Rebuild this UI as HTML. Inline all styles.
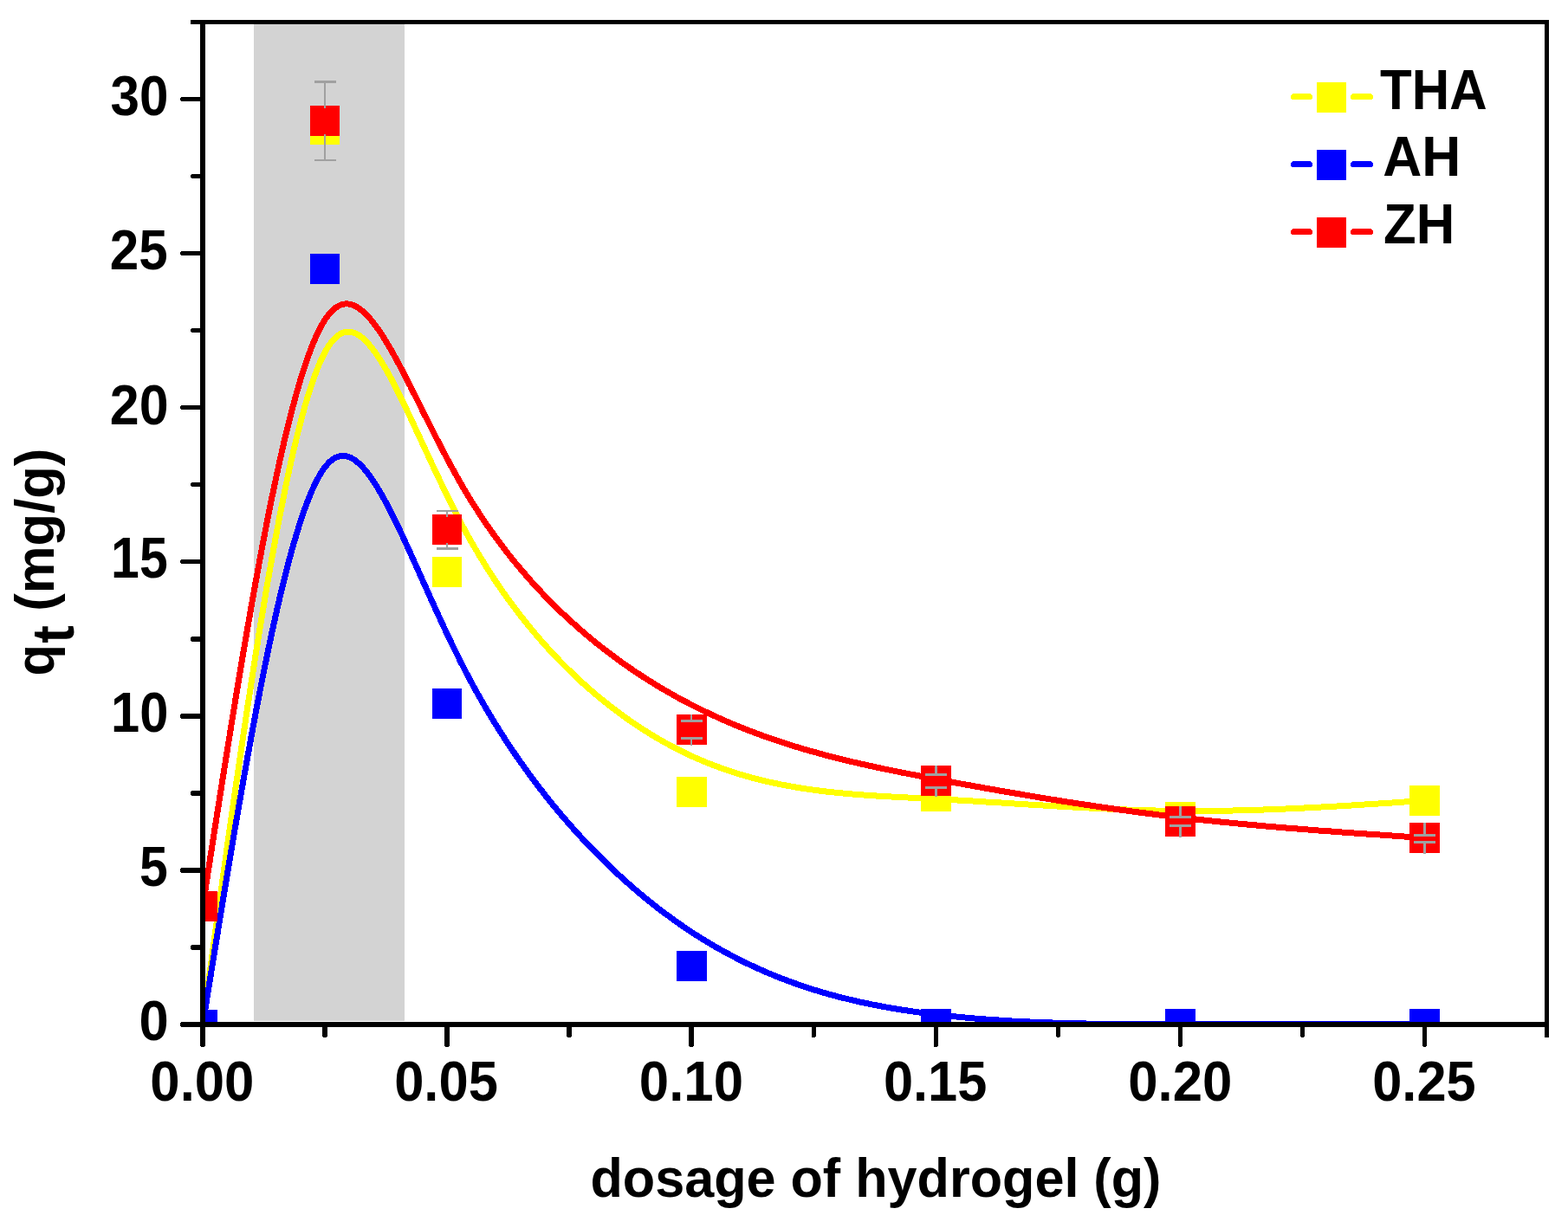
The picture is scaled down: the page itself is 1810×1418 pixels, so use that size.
<!DOCTYPE html>
<html lang="en">
<head>
<meta charset="utf-8">
<title>qt vs dosage of hydrogel</title>
<style>
html,body{margin:0;padding:0;background:#fff;}
body{width:1810px;height:1418px;overflow:hidden;}
svg{display:block;}
text{font-family:"Liberation Sans",sans-serif;font-weight:bold;fill:#000;}
</style>
</head>
<body>
<svg width="1810" height="1418" viewBox="0 0 1810 1418">
<rect x="0" y="0" width="1810" height="1418" fill="#ffffff"/>
<defs><clipPath id="plot"><rect x="237" y="28" width="1546" height="1152"/></clipPath></defs>
<rect x="293" y="28" width="174" height="1150.7" fill="#d3d3d3" shape-rendering="crispEdges"/>
<g clip-path="url(#plot)" shape-rendering="crispEdges">
<path d="M234.0,1183.0 L236.4,1165.8 L238.7,1148.6 L241.1,1131.4 L243.4,1114.2 L245.8,1097.0 L248.1,1079.9 L250.5,1062.8 L252.8,1045.8 L255.2,1028.8 L257.5,1011.9 L259.9,995.1 L262.2,978.3 L264.6,961.7 L266.9,945.1 L269.3,928.6 L271.6,912.3 L274.0,896.0 L276.3,879.9 L278.7,863.9 L281.0,848.0 L283.4,832.3 L285.7,816.7 L288.1,801.3 L290.4,786.1 L292.8,771.0 L295.1,756.1 L297.5,741.4 L299.8,726.8 L302.2,712.5 L304.5,698.4 L306.9,684.5 L309.2,670.8 L311.6,657.4 L313.9,644.2 L316.3,631.2 L318.6,618.5 L321.0,606.0 L323.3,593.8 L325.7,581.9 L328.0,570.2 L330.4,558.9 L332.7,547.8 L335.1,537.0 L337.4,526.6 L339.8,516.4 L342.1,506.6 L344.5,497.1 L346.8,488.0 L349.2,479.1 L351.5,470.7 L353.9,462.6 L356.2,454.8 L358.6,447.5 L360.9,440.5 L363.3,433.9 L365.6,427.7 L368.0,421.8 L370.3,416.4 L372.7,411.4 L375.0,406.9 L377.4,402.7 L379.7,399.0 L382.1,395.7 L384.5,392.8 L386.8,390.3 L389.2,388.2 L391.5,386.4 L393.9,385.1 L396.3,384.1 L398.7,383.4 L401.0,383.1 L403.4,383.1 L405.8,383.5 L408.3,384.2 L410.7,385.1 L413.1,386.4 L415.5,388.0 L418.0,389.9 L420.5,392.1 L422.9,394.5 L425.4,397.2 L427.9,400.1 L430.4,403.3 L433.0,406.7 L435.5,410.4 L438.1,414.3 L440.7,418.4 L443.3,422.6 L445.9,427.1 L448.5,431.8 L451.2,436.7 L453.8,441.7 L456.5,446.9 L459.2,452.2 L462.0,457.7 L464.8,463.3 L467.5,469.1 L470.3,474.9 L473.2,480.9 L476.0,487.0 L478.9,493.2 L481.8,499.4 L484.8,505.8 L487.7,512.2 L490.7,518.7 L493.8,525.2 L496.8,531.8 L499.9,538.4 L503.0,545.1 L506.2,551.7 L509.4,558.4 L512.6,565.1 L515.8,571.8 L519.1,578.4 L522.4,585.1 L525.8,591.7 L529.2,598.3 L532.6,604.8 L536.1,611.3 L539.6,617.7 L543.1,624.0 L546.7,630.3 L550.4,636.5 L554.0,642.6 L557.7,648.6 L561.4,654.6 L565.2,660.5 L569.0,666.4 L572.8,672.2 L576.7,677.9 L580.6,683.5 L584.5,689.0 L588.5,694.5 L592.5,699.9 L596.5,705.3 L600.6,710.6 L604.7,715.8 L608.8,720.9 L612.9,725.9 L617.1,730.9 L621.3,735.9 L625.5,740.7 L629.7,745.5 L634.0,750.2 L638.3,754.8 L642.6,759.4 L646.9,763.9 L651.3,768.3 L655.7,772.7 L660.1,776.9 L664.5,781.2 L668.9,785.3 L673.4,789.4 L677.9,793.4 L682.3,797.3 L686.8,801.2 L691.4,805.0 L695.9,808.7 L700.5,812.3 L705.0,815.9 L709.6,819.4 L714.2,822.9 L718.8,826.3 L723.4,829.6 L728.0,832.8 L732.7,836.0 L737.3,839.1 L742.0,842.1 L746.6,845.0 L751.3,847.9 L755.9,850.7 L760.6,853.5 L765.3,856.2 L770.0,858.8 L774.7,861.3 L779.4,863.8 L784.1,866.2 L788.8,868.5 L793.5,870.8 L798.2,873.0 L802.9,875.1 L807.6,877.1 L812.3,879.1 L817.0,881.1 L821.7,882.9 L826.4,884.7 L831.1,886.4 L835.8,888.1 L840.5,889.7 L845.2,891.3 L849.9,892.8 L854.6,894.2 L859.3,895.6 L864.0,897.0 L868.7,898.3 L873.4,899.5 L878.1,900.7 L882.8,901.8 L887.5,902.9 L892.2,903.9 L896.9,904.9 L901.6,905.9 L906.3,906.8 L911.0,907.7 L915.7,908.5 L920.4,909.3 L925.1,910.1 L929.8,910.8 L934.5,911.5 L939.2,912.2 L943.9,912.8 L948.6,913.4 L953.3,914.0 L958.0,914.5 L962.7,915.0 L967.4,915.5 L972.1,915.9 L976.8,916.4 L981.5,916.8 L986.2,917.2 L990.9,917.6 L995.6,917.9 L1000.3,918.3 L1005.0,918.6 L1009.8,918.9 L1014.5,919.2 L1019.2,919.5 L1023.9,919.8 L1028.6,920.0 L1033.3,920.3 L1038.0,920.5 L1042.7,920.8 L1047.4,921.0 L1052.1,921.2 L1056.8,921.5 L1061.5,921.7 L1066.2,921.9 L1070.9,922.2 L1075.6,922.4 L1080.3,922.7 L1085.0,922.9 L1089.7,923.1 L1094.4,923.4 L1099.1,923.7 L1103.8,923.9 L1108.5,924.2 L1113.2,924.5 L1117.9,924.7 L1122.6,925.0 L1127.3,925.3 L1132.0,925.6 L1136.7,925.9 L1141.4,926.2 L1146.1,926.4 L1150.8,926.7 L1155.5,927.0 L1160.2,927.3 L1164.9,927.6 L1169.6,927.9 L1174.3,928.2 L1179.0,928.5 L1183.7,928.8 L1188.4,929.1 L1193.1,929.4 L1197.8,929.6 L1202.5,929.9 L1207.2,930.2 L1211.9,930.5 L1216.6,930.8 L1221.3,931.1 L1226.0,931.3 L1230.7,931.6 L1235.4,931.9 L1240.1,932.1 L1244.8,932.4 L1249.5,932.6 L1254.2,932.9 L1258.9,933.1 L1263.6,933.3 L1268.3,933.6 L1273.0,933.8 L1277.7,934.0 L1282.4,934.2 L1287.1,934.4 L1291.8,934.6 L1296.5,934.8 L1301.2,935.0 L1305.9,935.1 L1310.6,935.3 L1315.3,935.5 L1320.0,935.6 L1324.8,935.7 L1329.5,935.9 L1334.2,936.0 L1338.9,936.1 L1343.6,936.2 L1348.3,936.2 L1353.0,936.3 L1357.7,936.4 L1362.4,936.4 L1367.1,936.5 L1371.8,936.5 L1376.5,936.5 L1381.2,936.5 L1385.9,936.5 L1390.6,936.5 L1395.3,936.4 L1400.0,936.4 L1404.7,936.3 L1409.4,936.3 L1414.1,936.2 L1418.8,936.1 L1423.5,936.0 L1428.2,935.9 L1432.9,935.8 L1437.6,935.7 L1442.3,935.5 L1447.0,935.4 L1451.7,935.3 L1456.4,935.1 L1461.1,934.9 L1465.8,934.8 L1470.5,934.6 L1475.2,934.4 L1479.9,934.2 L1484.6,934.0 L1489.3,933.8 L1494.0,933.6 L1498.7,933.4 L1503.4,933.1 L1508.1,932.9 L1512.8,932.7 L1517.5,932.4 L1522.2,932.2 L1526.9,931.9 L1531.6,931.7 L1536.3,931.4 L1541.0,931.1 L1545.7,930.9 L1550.4,930.6 L1555.1,930.3 L1559.8,930.0 L1564.5,929.7 L1569.2,929.4 L1573.9,929.1 L1578.6,928.8 L1583.3,928.5 L1588.0,928.2 L1592.7,927.9 L1597.4,927.6 L1602.1,927.3 L1606.8,927.0 L1611.5,926.7 L1616.2,926.3 L1620.9,926.0 L1625.6,925.7 L1630.3,925.4 L1635.1,925.1 L1639.8,924.8 L1644.5,924.4" fill="none" stroke="#ffff00" stroke-width="7" stroke-linejoin="round" stroke-linecap="butt"/>
<rect x="217" y="1166" width="34" height="35" fill="#ffff00"/>
<rect x="358" y="132" width="34" height="35" fill="#ffff00"/>
<rect x="499" y="643" width="34" height="35" fill="#ffff00"/>
<rect x="781" y="897" width="35" height="35" fill="#ffff00"/>
<rect x="1063" y="902" width="35" height="35" fill="#ffff00"/>
<rect x="1345" y="926" width="35" height="35" fill="#ffff00"/>
<rect x="1627" y="907" width="35" height="35" fill="#ffff00"/>
<path d="M234.0,1183.0 L236.4,1168.5 L238.7,1153.9 L241.1,1139.4 L243.4,1124.9 L245.8,1110.4 L248.1,1096.0 L250.5,1081.6 L252.8,1067.2 L255.2,1052.9 L257.5,1038.6 L259.9,1024.4 L262.2,1010.3 L264.6,996.3 L266.9,982.3 L269.3,968.4 L271.6,954.7 L274.0,941.0 L276.3,927.4 L278.7,914.0 L281.0,900.6 L283.4,887.4 L285.7,874.4 L288.1,861.4 L290.4,848.6 L292.8,836.0 L295.1,823.5 L297.5,811.2 L299.8,799.1 L302.2,787.1 L304.5,775.4 L306.9,763.8 L309.2,752.4 L311.6,741.2 L313.9,730.2 L316.3,719.5 L318.6,708.9 L321.0,698.6 L323.3,688.6 L325.7,678.7 L328.0,669.2 L330.4,659.8 L332.7,650.8 L335.1,642.0 L337.4,633.5 L339.8,625.2 L342.1,617.3 L344.5,609.6 L346.8,602.3 L349.2,595.2 L351.5,588.4 L353.9,582.0 L356.2,575.9 L358.6,570.1 L360.9,564.7 L363.3,559.6 L365.6,554.9 L368.0,550.5 L370.3,546.5 L372.7,542.8 L375.0,539.5 L377.4,536.7 L379.7,534.1 L382.1,532.0 L384.5,530.2 L386.8,528.7 L389.2,527.6 L391.5,526.9 L393.9,526.5 L396.3,526.3 L398.7,526.6 L401.0,527.1 L403.4,527.9 L405.8,529.0 L408.3,530.4 L410.7,532.1 L413.1,534.1 L415.5,536.3 L418.0,538.8 L420.5,541.5 L422.9,544.5 L425.4,547.7 L427.9,551.1 L430.4,554.8 L433.0,558.7 L435.5,562.7 L438.1,567.0 L440.7,571.5 L443.3,576.2 L445.9,581.0 L448.5,586.0 L451.2,591.2 L453.8,596.5 L456.5,602.0 L459.2,607.6 L462.0,613.3 L464.8,619.2 L467.5,625.2 L470.3,631.3 L473.2,637.5 L476.0,643.9 L478.9,650.3 L481.8,656.7 L484.8,663.3 L487.7,669.9 L490.7,676.6 L493.8,683.4 L496.8,690.2 L499.9,697.0 L503.0,703.9 L506.2,710.7 L509.4,717.7 L512.6,724.6 L515.8,731.5 L519.1,738.4 L522.4,745.3 L525.8,752.2 L529.2,759.0 L532.6,765.9 L536.1,772.7 L539.6,779.4 L543.1,786.1 L546.7,792.7 L550.4,799.3 L554.0,805.8 L557.7,812.2 L561.4,818.6 L565.2,825.0 L569.0,831.3 L572.8,837.5 L576.7,843.7 L580.6,849.8 L584.5,855.9 L588.5,861.9 L592.5,867.8 L596.5,873.7 L600.6,879.5 L604.7,885.3 L608.8,891.0 L612.9,896.7 L617.1,902.3 L621.3,907.8 L625.5,913.3 L629.7,918.7 L634.0,924.1 L638.3,929.4 L642.6,934.6 L646.9,939.8 L651.3,944.9 L655.7,950.0 L660.1,955.0 L664.5,959.9 L668.9,964.8 L673.4,969.6 L677.9,974.4 L682.3,979.1 L686.8,983.7 L691.4,988.3 L695.9,992.8 L700.5,997.3 L705.0,1001.7 L709.6,1006.0 L714.2,1010.3 L718.8,1014.5 L723.4,1018.6 L728.0,1022.7 L732.7,1026.7 L737.3,1030.7 L742.0,1034.5 L746.6,1038.4 L751.3,1042.1 L755.9,1045.8 L760.6,1049.5 L765.3,1053.0 L770.0,1056.5 L774.7,1060.0 L779.4,1063.4 L784.1,1066.7 L788.8,1069.9 L793.5,1073.1 L798.2,1076.2 L802.9,1079.3 L807.6,1082.3 L812.3,1085.2 L817.0,1088.0 L821.7,1090.8 L826.4,1093.6 L831.1,1096.2 L835.8,1098.9 L840.5,1101.4 L845.2,1103.9 L849.9,1106.3 L854.6,1108.7 L859.3,1111.1 L864.0,1113.3 L868.7,1115.5 L873.4,1117.7 L878.1,1119.8 L882.8,1121.9 L887.5,1123.9 L892.2,1125.8 L896.9,1127.7 L901.6,1129.6 L906.3,1131.4 L911.0,1133.2 L915.7,1134.9 L920.4,1136.5 L925.1,1138.2 L929.8,1139.7 L934.5,1141.3 L939.2,1142.8 L943.9,1144.2 L948.6,1145.6 L953.3,1147.0 L958.0,1148.3 L962.7,1149.6 L967.4,1150.9 L972.1,1152.1 L976.8,1153.2 L981.5,1154.4 L986.2,1155.5 L990.9,1156.6 L995.6,1157.6 L1000.3,1158.6 L1005.0,1159.6 L1009.8,1160.5 L1014.5,1161.4 L1019.2,1162.3 L1023.9,1163.2 L1028.6,1164.0 L1033.3,1164.8 L1038.0,1165.6 L1042.7,1166.3 L1047.4,1167.0 L1052.1,1167.7 L1056.8,1168.4 L1061.5,1169.1 L1066.2,1169.7 L1070.9,1170.3 L1075.6,1170.9 L1080.3,1171.5 L1085.0,1172.0 L1089.7,1172.5 L1094.4,1173.1 L1099.1,1173.5 L1103.8,1174.0 L1108.5,1174.5 L1113.2,1174.9 L1117.9,1175.4 L1122.6,1175.8 L1127.3,1176.2 L1132.0,1176.5 L1136.7,1176.9 L1141.4,1177.3 L1146.1,1177.6 L1150.8,1177.9 L1155.5,1178.2 L1160.2,1178.5 L1164.9,1178.8 L1169.6,1179.1 L1174.3,1179.3 L1179.0,1179.6 L1183.7,1179.8 L1188.4,1180.0 L1193.1,1180.2 L1197.8,1180.4 L1202.5,1180.6 L1207.2,1180.8 L1211.9,1180.9 L1216.6,1181.1 L1221.3,1181.2 L1226.0,1181.4 L1230.7,1181.5 L1235.4,1181.6 L1240.1,1181.7 L1244.8,1181.8 L1249.5,1181.9 L1254.2,1182.0 L1258.9,1182.1 L1263.6,1182.2 L1268.3,1182.2 L1273.0,1182.3 L1277.7,1182.3 L1282.4,1182.4 L1287.1,1182.4 L1291.8,1182.5 L1296.5,1182.5 L1301.2,1182.5 L1305.9,1182.6 L1310.6,1182.6 L1315.3,1182.6 L1320.0,1182.6 L1324.8,1182.6 L1329.5,1182.6 L1334.2,1182.6 L1338.9,1182.6 L1343.6,1182.6 L1348.3,1182.6 L1353.0,1182.6 L1357.7,1182.6 L1362.4,1182.6 L1367.1,1182.6 L1371.8,1182.6 L1376.5,1182.6 L1381.2,1182.6 L1385.9,1182.6 L1390.6,1182.6 L1395.3,1182.6 L1400.0,1182.6 L1404.7,1182.6 L1409.4,1182.6 L1414.1,1182.6 L1418.8,1182.6 L1423.5,1182.6 L1428.2,1182.6 L1432.9,1182.6 L1437.6,1182.6 L1442.3,1182.6 L1447.0,1182.6 L1451.7,1182.6 L1456.4,1182.6 L1461.1,1182.6 L1465.8,1182.6 L1470.5,1182.6 L1475.2,1182.6 L1479.9,1182.6 L1484.6,1182.6 L1489.3,1182.6 L1494.0,1182.6 L1498.7,1182.6 L1503.4,1182.6 L1508.1,1182.6 L1512.8,1182.6 L1517.5,1182.6 L1522.2,1182.6 L1526.9,1182.6 L1531.6,1182.6 L1536.3,1182.6 L1541.0,1182.6 L1545.7,1182.6 L1550.4,1182.6 L1555.1,1182.6 L1559.8,1182.6 L1564.5,1182.6 L1569.2,1182.6 L1573.9,1182.6 L1578.6,1182.6 L1583.3,1182.6 L1588.0,1182.6 L1592.7,1182.6 L1597.4,1182.6 L1602.1,1182.6 L1606.8,1182.6 L1611.5,1182.6 L1616.2,1182.6 L1620.9,1182.6 L1625.6,1182.6 L1630.3,1182.6 L1635.1,1182.6 L1639.8,1182.6 L1644.5,1182.6" fill="none" stroke="#0000ff" stroke-width="7" stroke-linejoin="round" stroke-linecap="butt"/>
<rect x="217" y="1166" width="34" height="35" fill="#0000ff"/>
<rect x="358" y="293" width="34" height="35" fill="#0000ff"/>
<rect x="499" y="795" width="34" height="35" fill="#0000ff"/>
<rect x="781" y="1098" width="35" height="35" fill="#0000ff"/>
<rect x="1063" y="1165" width="35" height="35" fill="#0000ff"/>
<rect x="1345" y="1165" width="35" height="35" fill="#0000ff"/>
<rect x="1627" y="1165" width="35" height="35" fill="#0000ff"/>
<path d="M234.0,1046.6 L236.4,1031.5 L238.7,1016.4 L241.1,1001.3 L243.4,986.2 L245.8,971.1 L248.1,956.1 L250.5,941.1 L252.8,926.2 L255.2,911.3 L257.5,896.5 L259.9,881.7 L262.2,867.0 L264.6,852.4 L266.9,837.9 L269.3,823.4 L271.6,809.1 L274.0,794.8 L276.3,780.7 L278.7,766.6 L281.0,752.7 L283.4,739.0 L285.7,725.3 L288.1,711.8 L290.4,698.5 L292.8,685.3 L295.1,672.2 L297.5,659.3 L299.8,646.6 L302.2,634.1 L304.5,621.8 L306.9,609.6 L309.2,597.7 L311.6,585.9 L313.9,574.4 L316.3,563.1 L318.6,552.0 L321.0,541.1 L323.3,530.5 L325.7,520.1 L328.0,509.9 L330.4,500.1 L332.7,490.4 L335.1,481.1 L337.4,472.0 L339.8,463.2 L342.1,454.7 L344.5,446.5 L346.8,438.6 L349.2,431.0 L351.5,423.7 L353.9,416.7 L356.2,410.0 L358.6,403.7 L360.9,397.7 L363.3,392.1 L365.6,386.8 L368.0,381.9 L370.3,377.3 L372.7,373.1 L375.0,369.3 L377.4,365.9 L379.7,362.8 L382.1,360.1 L384.5,357.8 L386.8,355.8 L389.2,354.2 L391.5,352.9 L393.9,351.9 L396.3,351.3 L398.7,350.9 L401.0,350.9 L403.4,351.2 L405.8,351.8 L408.3,352.6 L410.7,353.8 L413.1,355.2 L415.5,356.9 L418.0,358.8 L420.5,361.0 L422.9,363.4 L425.4,366.0 L427.9,368.9 L430.4,372.0 L433.0,375.3 L435.5,378.8 L438.1,382.5 L440.7,386.4 L443.3,390.5 L445.9,394.7 L448.5,399.1 L451.2,403.7 L453.8,408.4 L456.5,413.3 L459.2,418.3 L462.0,423.4 L464.8,428.7 L467.5,434.0 L470.3,439.5 L473.2,445.0 L476.0,450.7 L478.9,456.4 L481.8,462.2 L484.8,468.1 L487.7,474.1 L490.7,480.1 L493.8,486.1 L496.8,492.2 L499.9,498.3 L503.0,504.4 L506.2,510.6 L509.4,516.7 L512.6,522.9 L515.8,529.0 L519.1,535.2 L522.4,541.3 L525.8,547.4 L529.2,553.4 L532.6,559.4 L536.1,565.4 L539.6,571.2 L543.1,577.1 L546.7,582.8 L550.4,588.5 L554.0,594.1 L557.7,599.7 L561.4,605.2 L565.2,610.6 L569.0,616.0 L572.8,621.3 L576.7,626.5 L580.6,631.7 L584.5,636.8 L588.5,641.9 L592.5,646.9 L596.5,651.8 L600.6,656.6 L604.7,661.4 L608.8,666.2 L612.9,670.9 L617.1,675.5 L621.3,680.0 L625.5,684.5 L629.7,689.0 L634.0,693.3 L638.3,697.6 L642.6,701.9 L646.9,706.1 L651.3,710.2 L655.7,714.3 L660.1,718.3 L664.5,722.3 L668.9,726.2 L673.4,730.1 L677.9,733.9 L682.3,737.6 L686.8,741.3 L691.4,744.9 L695.9,748.5 L700.5,752.0 L705.0,755.5 L709.6,758.9 L714.2,762.3 L718.8,765.6 L723.4,768.8 L728.0,772.0 L732.7,775.2 L737.3,778.2 L742.0,781.3 L746.6,784.3 L751.3,787.2 L755.9,790.1 L760.6,792.9 L765.3,795.7 L770.0,798.5 L774.7,801.1 L779.4,803.8 L784.1,806.4 L788.8,808.9 L793.5,811.4 L798.2,813.8 L802.9,816.2 L807.6,818.6 L812.3,820.9 L817.0,823.1 L821.7,825.4 L826.4,827.5 L831.1,829.7 L835.8,831.7 L840.5,833.8 L845.2,835.8 L849.9,837.7 L854.6,839.6 L859.3,841.5 L864.0,843.4 L868.7,845.2 L873.4,846.9 L878.1,848.7 L882.8,850.4 L887.5,852.0 L892.2,853.7 L896.9,855.2 L901.6,856.8 L906.3,858.3 L911.0,859.8 L915.7,861.3 L920.4,862.8 L925.1,864.2 L929.8,865.6 L934.5,866.9 L939.2,868.2 L943.9,869.5 L948.6,870.8 L953.3,872.1 L958.0,873.3 L962.7,874.5 L967.4,875.7 L972.1,876.9 L976.8,878.0 L981.5,879.2 L986.2,880.3 L990.9,881.4 L995.6,882.4 L1000.3,883.5 L1005.0,884.5 L1009.8,885.6 L1014.5,886.6 L1019.2,887.6 L1023.9,888.6 L1028.6,889.5 L1033.3,890.5 L1038.0,891.4 L1042.7,892.4 L1047.4,893.3 L1052.1,894.2 L1056.8,895.1 L1061.5,896.0 L1066.2,896.9 L1070.9,897.8 L1075.6,898.7 L1080.3,899.6 L1085.0,900.5 L1089.7,901.4 L1094.4,902.3 L1099.1,903.1 L1103.8,904.0 L1108.5,904.9 L1113.2,905.7 L1117.9,906.6 L1122.6,907.4 L1127.3,908.3 L1132.0,909.1 L1136.7,910.0 L1141.4,910.8 L1146.1,911.6 L1150.8,912.5 L1155.5,913.3 L1160.2,914.1 L1164.9,914.9 L1169.6,915.7 L1174.3,916.5 L1179.0,917.3 L1183.7,918.1 L1188.4,918.9 L1193.1,919.7 L1197.8,920.5 L1202.5,921.3 L1207.2,922.0 L1211.9,922.8 L1216.6,923.6 L1221.3,924.3 L1226.0,925.1 L1230.7,925.8 L1235.4,926.5 L1240.1,927.3 L1244.8,928.0 L1249.5,928.7 L1254.2,929.4 L1258.9,930.1 L1263.6,930.8 L1268.3,931.5 L1273.0,932.2 L1277.7,932.9 L1282.4,933.6 L1287.1,934.2 L1291.8,934.9 L1296.5,935.5 L1301.2,936.2 L1305.9,936.8 L1310.6,937.5 L1315.3,938.1 L1320.0,938.7 L1324.8,939.3 L1329.5,939.9 L1334.2,940.5 L1338.9,941.1 L1343.6,941.7 L1348.3,942.3 L1353.0,942.8 L1357.7,943.4 L1362.4,944.0 L1367.1,944.5 L1371.8,945.0 L1376.5,945.6 L1381.2,946.1 L1385.9,946.6 L1390.6,947.1 L1395.3,947.6 L1400.0,948.1 L1404.7,948.6 L1409.4,949.1 L1414.1,949.6 L1418.8,950.0 L1423.5,950.5 L1428.2,950.9 L1432.9,951.4 L1437.6,951.8 L1442.3,952.3 L1447.0,952.7 L1451.7,953.1 L1456.4,953.6 L1461.1,954.0 L1465.8,954.4 L1470.5,954.8 L1475.2,955.2 L1479.9,955.6 L1484.6,956.0 L1489.3,956.4 L1494.0,956.7 L1498.7,957.1 L1503.4,957.5 L1508.1,957.9 L1512.8,958.2 L1517.5,958.6 L1522.2,959.0 L1526.9,959.3 L1531.6,959.7 L1536.3,960.0 L1541.0,960.4 L1545.7,960.7 L1550.4,961.1 L1555.1,961.4 L1559.8,961.7 L1564.5,962.1 L1569.2,962.4 L1573.9,962.7 L1578.6,963.1 L1583.3,963.4 L1588.0,963.7 L1592.7,964.0 L1597.4,964.4 L1602.1,964.7 L1606.8,965.0 L1611.5,965.3 L1616.2,965.6 L1620.9,966.0 L1625.6,966.3 L1630.3,966.6 L1635.1,966.9 L1639.8,967.2 L1644.5,967.5" fill="none" stroke="#ff0000" stroke-width="7" stroke-linejoin="round" stroke-linecap="butt"/>
<rect x="217" y="1029" width="34" height="35" fill="#ff0000"/>
<rect x="358" y="122" width="34" height="35" fill="#ff0000"/>
<rect x="499" y="594" width="34" height="35" fill="#ff0000"/>
<rect x="781" y="825" width="35" height="35" fill="#ff0000"/>
<rect x="1063" y="884" width="35" height="35" fill="#ff0000"/>
<rect x="1345" y="931" width="35" height="35" fill="#ff0000"/>
<rect x="1627" y="950" width="35" height="35" fill="#ff0000"/>
<rect x="363" y="93" width="25" height="3" fill="#a0a0a0"/>
<rect x="363" y="184" width="25" height="2" fill="#a0a0a0"/>
<rect x="374" y="96" width="2" height="26" fill="#a0a0a0"/>
<rect x="374" y="122" width="2" height="3" fill="#a0a0a0"/>
<rect x="374" y="157" width="2" height="27" fill="#a0a0a0"/>
<rect x="374" y="155" width="2" height="2" fill="#a0a0a0"/>
<rect x="504" y="589" width="25" height="2" fill="#a0a0a0"/>
<rect x="504" y="632" width="25" height="3" fill="#a0a0a0"/>
<rect x="515" y="591" width="2" height="3" fill="#a0a0a0"/>
<rect x="515" y="594" width="2" height="3" fill="#a0a0a0"/>
<rect x="515" y="629" width="2" height="3" fill="#a0a0a0"/>
<rect x="515" y="627" width="2" height="2" fill="#a0a0a0"/>
<rect x="786" y="831" width="25" height="3" fill="#a0a0a0"/>
<rect x="786" y="851" width="25" height="3" fill="#a0a0a0"/>
<rect x="797" y="825" width="2" height="6" fill="#a0a0a0"/>
<rect x="797" y="854" width="2" height="7" fill="#a0a0a0"/>
<rect x="1068" y="893" width="25" height="3" fill="#a0a0a0"/>
<rect x="1068" y="908" width="25" height="3" fill="#a0a0a0"/>
<rect x="1079" y="884" width="3" height="9" fill="#a0a0a0"/>
<rect x="1079" y="911" width="3" height="9" fill="#a0a0a0"/>
<rect x="1350" y="942" width="25" height="3" fill="#a0a0a0"/>
<rect x="1350" y="952" width="25" height="3" fill="#a0a0a0"/>
<rect x="1361" y="931" width="3" height="11" fill="#a0a0a0"/>
<rect x="1361" y="955" width="3" height="12" fill="#a0a0a0"/>
<rect x="1632" y="963" width="25" height="3" fill="#a0a0a0"/>
<rect x="1632" y="971" width="25" height="3" fill="#a0a0a0"/>
<rect x="1643" y="950" width="3" height="13" fill="#a0a0a0"/>
<rect x="1643" y="974" width="3" height="12" fill="#a0a0a0"/>
</g>
<g fill="#000" shape-rendering="crispEdges">
<rect x="231" y="23" width="6" height="1163"/>
<rect x="220" y="1180" width="1568" height="6"/>
<rect x="220" y="23" width="1568" height="5"/>
<rect x="1783" y="23" width="5" height="1175"/>
</g>
<g fill="#000" shape-rendering="crispEdges">
<rect x="231.30" y="1183" width="5.4" height="25.0"/>
<rect x="232.20" y="1208.0" width="3.6" height="1"/>
<rect x="372.35" y="1183" width="5.4" height="14.0"/>
<rect x="373.25" y="1197.0" width="3.6" height="1"/>
<rect x="513.39" y="1183" width="5.4" height="25.0"/>
<rect x="514.29" y="1208.0" width="3.6" height="1"/>
<rect x="654.44" y="1183" width="5.4" height="14.0"/>
<rect x="655.34" y="1197.0" width="3.6" height="1"/>
<rect x="795.48" y="1183" width="5.4" height="25.0"/>
<rect x="796.38" y="1208.0" width="3.6" height="1"/>
<rect x="936.53" y="1183" width="5.4" height="14.0"/>
<rect x="937.43" y="1197.0" width="3.6" height="1"/>
<rect x="1077.57" y="1183" width="5.4" height="25.0"/>
<rect x="1078.47" y="1208.0" width="3.6" height="1"/>
<rect x="1218.62" y="1183" width="5.4" height="14.0"/>
<rect x="1219.52" y="1197.0" width="3.6" height="1"/>
<rect x="1359.66" y="1183" width="5.4" height="25.0"/>
<rect x="1360.56" y="1208.0" width="3.6" height="1"/>
<rect x="1500.71" y="1183" width="5.4" height="14.0"/>
<rect x="1501.61" y="1197.0" width="3.6" height="1"/>
<rect x="1641.75" y="1183" width="5.4" height="25.0"/>
<rect x="1642.65" y="1208.0" width="3.6" height="1"/>
<rect x="209" y="1180.30" width="25" height="5.4"/>
<rect x="208" y="1181.30" width="1" height="3.4"/>
<rect x="221" y="1091.26" width="13" height="5.4"/>
<rect x="220" y="1092.26" width="1" height="3.4"/>
<rect x="209" y="1002.22" width="25" height="5.4"/>
<rect x="208" y="1003.22" width="1" height="3.4"/>
<rect x="221" y="913.18" width="13" height="5.4"/>
<rect x="220" y="914.18" width="1" height="3.4"/>
<rect x="209" y="824.15" width="25" height="5.4"/>
<rect x="208" y="825.15" width="1" height="3.4"/>
<rect x="221" y="735.11" width="13" height="5.4"/>
<rect x="220" y="736.11" width="1" height="3.4"/>
<rect x="209" y="646.07" width="25" height="5.4"/>
<rect x="208" y="647.07" width="1" height="3.4"/>
<rect x="221" y="557.03" width="13" height="5.4"/>
<rect x="220" y="558.03" width="1" height="3.4"/>
<rect x="209" y="467.99" width="25" height="5.4"/>
<rect x="208" y="468.99" width="1" height="3.4"/>
<rect x="221" y="378.95" width="13" height="5.4"/>
<rect x="220" y="379.95" width="1" height="3.4"/>
<rect x="209" y="289.92" width="25" height="5.4"/>
<rect x="208" y="290.92" width="1" height="3.4"/>
<rect x="221" y="200.88" width="13" height="5.4"/>
<rect x="220" y="201.88" width="1" height="3.4"/>
<rect x="209" y="111.84" width="25" height="5.4"/>
<rect x="208" y="112.84" width="1" height="3.4"/>
</g>
<text transform="matrix(0.9708 0 0 1.0473 127.55 133.09)" font-size="62" xml:space="preserve">30</text>
<text transform="matrix(0.9708 0 0 1.0532 126.79 311.35)" font-size="62" xml:space="preserve">25</text>
<text transform="matrix(0.9825 0 0 1.0487 126.77 490.25)" font-size="62" xml:space="preserve">20</text>
<text transform="matrix(0.9512 0 0 1.0683 128.11 667.34)" font-size="62" xml:space="preserve">15</text>
<text transform="matrix(0.9630 0 0 1.0487 128.07 845.25)" font-size="62" xml:space="preserve">10</text>
<text transform="matrix(0.9514 0 0 1.0406 160.98 1023.25)" font-size="62" xml:space="preserve">5</text>
<text transform="matrix(0.9915 0 0 1.0464 160.44 1201.25)" font-size="62" xml:space="preserve">0</text>
<text transform="matrix(0.9954 0 0 1.0487 173.33 1271.25)" font-size="62" xml:space="preserve">0.00</text>
<text transform="matrix(0.9922 0 0 1.0487 455.14 1271.25)" font-size="62" xml:space="preserve">0.05</text>
<text transform="matrix(0.9963 0 0 1.0487 737.83 1271.25)" font-size="62" xml:space="preserve">0.10</text>
<text transform="matrix(0.9896 0 0 1.0487 1019.95 1271.25)" font-size="62" xml:space="preserve">0.15</text>
<text transform="matrix(0.9954 0 0 1.0487 1302.23 1271.25)" font-size="62" xml:space="preserve">0.20</text>
<text transform="matrix(0.9896 0 0 1.0487 1584.25 1271.25)" font-size="62" xml:space="preserve">0.25</text>
<text transform="matrix(0.9864 0 0 1.0044 681.45 1382.00)" font-size="62" xml:space="preserve">dosage of hydrogel (g)</text>
<text transform="matrix(0 -0.9614 1.0044 0 62.00 780.38)" font-size="62" xml:space="preserve">q</text>
<text transform="matrix(0 -0.9966 1.1046 0 84.80 742.77)" font-size="62" xml:space="preserve">t</text>
<text transform="matrix(0 -0.9928 1.0044 0 62.00 705.68)" font-size="62" xml:space="preserve">(mg/g)</text>
<g shape-rendering="crispEdges"><line x1="1493.5" y1="111.5" x2="1511.5" y2="111.5" stroke="#ffff00" stroke-width="7" stroke-linecap="round"/>
<line x1="1562.5" y1="111.5" x2="1581.5" y2="111.5" stroke="#ffff00" stroke-width="7" stroke-linecap="round"/>
<rect x="1520" y="95.0" width="34" height="35" fill="#ffff00"/></g>
<text transform="matrix(0.9697 0 0 1.0557 1593.10 126.20)" font-size="62" xml:space="preserve">THA</text>
<g shape-rendering="crispEdges"><line x1="1493.5" y1="189.5" x2="1511.5" y2="189.5" stroke="#0000ff" stroke-width="7" stroke-linecap="round"/>
<line x1="1562.5" y1="189.5" x2="1581.5" y2="189.5" stroke="#0000ff" stroke-width="7" stroke-linecap="round"/>
<rect x="1520" y="173.0" width="34" height="35" fill="#0000ff"/></g>
<text transform="matrix(1.0065 0 0 1.0534 1596.24 202.90)" font-size="62" xml:space="preserve">AH</text>
<g shape-rendering="crispEdges"><line x1="1493.5" y1="267.5" x2="1511.5" y2="267.5" stroke="#ff0000" stroke-width="7" stroke-linecap="round"/>
<line x1="1562.5" y1="267.5" x2="1581.5" y2="267.5" stroke="#ff0000" stroke-width="7" stroke-linecap="round"/>
<rect x="1520" y="251.0" width="34" height="35" fill="#ff0000"/></g>
<text transform="matrix(0.9952 0 0 1.0557 1597.05 281.00)" font-size="62" xml:space="preserve">ZH</text>
</svg>
</body>
</html>
